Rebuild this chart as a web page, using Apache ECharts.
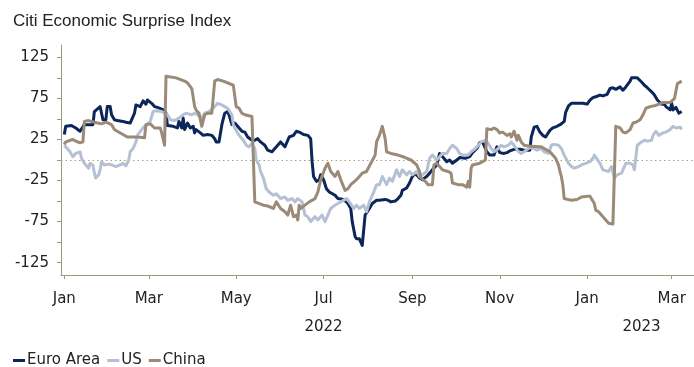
<!DOCTYPE html>
<html>
<head>
<meta charset="utf-8">
<script src="https://cdn.jsdelivr.net/npm/echarts@6/dist/echarts.min.js"></script>
<style>html,body{margin:0;padding:0;background:#fff}#c{width:694px;height:367px}</style>
</head>
<body>
<div id="c"></div>
<script>
// x values: days since 2022-01-01
const baseDate = '2022-01-01';
const seriesNames = ['Euro Area', 'US', 'China'];

const euroDays = [0,1,5,8,11,12,14,18,20,21,22,25,26,27,29,30,32,33,35,37,41,43,46,47,49,50,53,55,57,58,61,63,65,68,70,71,72,76,79,80,82,83,84,86,88,90,91,92,95,97,100,103,105,106,108,110,112,114,115,117,119,121,124,126,128,131,133,135,137,140,142,145,147,149,151,154,155,157,160,162,164,167,170,172,173,174,176,178,179,181,183,185,189,191,195,198,200,201,203,204,206,207,208,210,211,213,215,218,220,224,226,228,231,233,235,236,239,241,243,245,246,248,250,253,255,257,260,262,263,265,267,269,271,274,276,280,283,285,288,290,292,295,297,300,302,304,307,309,311,314,318,321,325,326,328,330,332,334,336,339,341,344,347,349,350,352,354,358,362,365,367,369,371,374,376,379,381,383,385,388,390,392,395,396,398,400,403,405,407,410,412,414,417,419,420,421,423,424,425,427,429,431];
const euroValues = [31,41,42,39,35,36,43,43,43,59,57,65,63,49,49,65,65,55,49,48,47,46,45,43,57,67,65,72,68,73,69,65,64,62,60,57,42,41,39,47,39,51,37,45,39,41,33,37,33,30,31,30,26,22,22,43,57,59,55,43,45,41,35,34,28,24,24,26,22,18,12,10,14,18,22,16,18,28,30,35,34,31,30,26,-2,-20,-26,-24,-18,-24,-35,-39,-43,-47,-48,-53,-59,-75,-93,-96,-96,-100,-104,-67,-65,-59,-53,-49,-49,-48,-49,-51,-50,-47,-43,-37,-34,-28,-20,-16,-18,-22,-24,-20,-16,-12,-6,8,10,2,-2,0,-4,0,3,2,4,9,14,21,22,10,6,6,16,9,8,9,11,13,13,12,12,28,40,41,34,30,28,36,39,41,44,47,58,66,69,69,69,68,73,76,77,79,78,80,87,88,86,89,85,89,96,100,100,100,95,91,88,83,79,73,68,68,65,63,61,69,61,64,57,59];

const usDays = [0,1,4,6,8,11,12,14,17,18,20,21,22,24,25,26,28,31,33,36,39,41,43,45,46,48,50,51,54,56,57,60,62,64,68,70,72,74,77,80,83,85,89,91,93,96,98,99,101,105,107,110,112,114,117,118,119,120,122,125,127,129,131,133,134,136,137,139,141,143,146,148,149,151,154,156,159,161,163,166,168,170,172,175,177,180,182,184,186,189,191,193,197,199,202,204,206,209,211,213,216,218,220,222,225,227,229,232,234,236,239,241,243,246,248,250,253,255,257,260,262,264,267,269,271,274,276,278,282,284,287,289,291,294,296,298,300,303,305,307,310,312,314,317,319,321,324,326,330,333,335,338,340,342,345,347,349,352,354,356,359,361,364,367,369,370,371,374,376,378,380,382,384,386,389,390,392,395,397,398,400,403,405,407,410,411,413,415,418,420,423,425,427,430,431];
const usValues = [18,16,10,4,8,10,2,-4,-10,-4,-6,-16,-22,-18,-12,-2,-6,-5,-6,-8,-6,-4,-7,0,10,14,22,30,37,41,43,47,59,60,59,57,55,49,48,51,55,57,55,57,55,51,57,55,59,65,69,67,65,63,55,43,39,37,30,24,18,16,20,14,0,-6,-14,-22,-35,-39,-43,-41,-39,-47,-45,-49,-47,-51,-47,-51,-67,-69,-75,-69,-73,-67,-75,-67,-59,-55,-53,-51,-47,-51,-59,-55,-59,-55,-63,-51,-39,-30,-30,-20,-30,-22,-26,-12,-20,-12,-18,-14,-18,-14,-20,-18,-14,2,6,0,4,8,8,14,18,14,8,6,6,10,14,18,22,24,20,14,10,14,18,16,18,22,18,10,8,10,14,16,12,14,10,8,18,19,18,14,6,-4,-8,-10,-8,-6,-4,-2,2,6,8,-4,-12,-13,-14,-8,-22,-18,-16,-14,-4,-4,-6,-12,18,22,24,23,24,30,35,30,33,34,37,41,39,40,37,38];

const chinaDays = [0,1,4,6,8,11,13,14,17,21,26,29,33,35,37,41,44,51,56,57,60,63,67,68,70,71,72,78,84,86,89,91,92,94,96,97,98,100,103,104,105,107,111,114,118,120,122,124,126,131,132,133,134,139,142,146,148,151,154,156,158,160,162,163,164,165,168,171,175,177,179,182,184,186,189,191,193,196,198,200,204,206,208,211,214,217,218,219,220,222,223,224,225,228,233,238,242,246,248,249,252,254,257,258,260,262,264,268,270,271,275,278,281,282,283,284,285,290,292,294,295,298,300,302,304,306,309,311,312,314,316,317,319,321,324,331,333,335,339,341,343,345,346,347,348,349,354,358,361,365,367,368,370,371,373,375,378,380,381,383,385,388,390,392,393,395,397,399,402,404,406,409,412,418,421,423,424,426,428,431];
const chinaValues = [19,22,24,25,23,21,22,47,48,46,44,46,43,37,35,31,28,28,27,43,44,39,39,33,18,102,102,100,96,94,87,65,61,57,41,39,55,57,57,59,96,98,96,94,91,65,63,57,55,53,51,-51,-53,-55,-56,-59,-51,-59,-63,-67,-55,-69,-67,-73,-55,-59,-55,-51,-47,-39,-24,-10,-4,-14,-20,-14,-24,-37,-35,-30,-24,-20,-16,-14,-4,6,22,26,30,41,39,26,10,8,6,3,0,-6,-14,-22,-26,-30,-30,-6,-4,-8,-12,-14,-16,-28,-30,-30,-33,-26,-33,-10,-6,-4,-2,0,38,37,39,37,33,34,30,32,28,35,24,30,22,18,17,16,16,14,10,6,2,-6,-14,-20,-30,-47,-49,-48,-45,-44,-44,-45,-53,-61,-63,-67,-73,-77,-78,-78,41,39,34,33,34,37,45,46,49,55,63,65,66,70,70,70,72,75,93,96,100,98];

const tickDays = [0,59,120,181,243,304,365,424];
const tickLabels = ['Jan','Mar','May','Jul','Sep','Nov','Jan','Mar'];
const yearDays = [181,403];
const yearLabels = ['2022','2023'];
const yLabelValues = [-125,-75,-25,25,75,125];
const yTickValues = [-125,-100,-75,-50,-25,0,25,50,75,100,125];

const colors = ['#0c2659', '#b6c0d3', '#9a8a77'];
const axisColor = '#a39482';
const font = 'DejaVu Sans';

function pairs(d, v) { return d.map((x, i) => [x, v[i]]); }

const chart = echarts.init(document.getElementById('c'), null, {renderer: 'canvas'});
const lineSeries = (name, data, color, extra) => Object.assign({
  name, type: 'line', data, showSymbol: false, symbol: 'none',
  lineStyle: {color, width: 3, join: 'round'}, itemStyle: {color},
  animation: false, z: 3
}, extra || {});

chart.setOption({
  animation: false,
  title: {
    text: 'Citi Economic Surprise Index', left: 8, top: 8,
    textStyle: {fontFamily: 'Liberation Sans', fontSize: 17, fontWeight: 'normal', color: '#222'}
  },
  legend: {
    data: seriesNames, left: 8, top: 348, icon: 'rect', itemWidth: 12, itemHeight: 3, itemGap: 7,
    textStyle: {fontFamily: font, fontSize: 15, color: '#222', padding: [0, 0, 0, -3]}
  },
  grid: {left: 61, right: 0, top: 45, bottom: 92, containLabel: false},
  xAxis: [{
    type: 'value', min: -2.3, max: 439.6, position: 'bottom',
    axisLine: {show: true, onZero: false, lineStyle: {color: axisColor, width: 1}},
    axisTick: {show: true, customValues: tickDays, length: 4, lineStyle: {color: axisColor}},
    axisLabel: {
      customValues: tickDays, margin: 17, fontFamily: font, fontSize: 15, color: '#222',
      formatter: v => tickLabels[tickDays.indexOf(Math.round(v))] || ''
    },
    splitLine: {show: false}
  }, {
    type: 'value', min: -2.3, max: 439.6, position: 'bottom', offset: 0,
    axisLine: {show: false, onZero: false}, axisTick: {show: false}, splitLine: {show: false},
    axisLabel: {
      customValues: yearDays, margin: 45, fontFamily: font, fontSize: 15, color: '#222',
      formatter: v => yearLabels[yearDays.indexOf(Math.round(v))] || ''
    }
  }],
  yAxis: {
    type: 'value', min: -140, max: 140,
    axisLine: {show: true, onZero: false, lineStyle: {color: axisColor, width: 1}},
    axisTick: {show: true, customValues: yTickValues, length: 4, lineStyle: {color: axisColor}},
    axisLabel: {customValues: yLabelValues, margin: 12, fontFamily: font, fontSize: 15, color: '#222'},
    splitLine: {show: false}
  },
  series: [
    lineSeries(seriesNames[0], pairs(euroDays, euroValues), colors[0], {
      markLine: {
        silent: true, symbol: ['none', 'none'], label: {show: false}, z: 1,
        lineStyle: {type: [1.5, 3], color: '#b89a7c', width: 1},
        emphasis: {disabled: true},
        data: [{yAxis: 0}], animation: false
      }
    }),
    lineSeries(seriesNames[1], pairs(usDays, usValues), colors[1]),
    lineSeries(seriesNames[2], pairs(chinaDays, chinaValues), colors[2])
  ]
});
</script>
</body>
</html>
